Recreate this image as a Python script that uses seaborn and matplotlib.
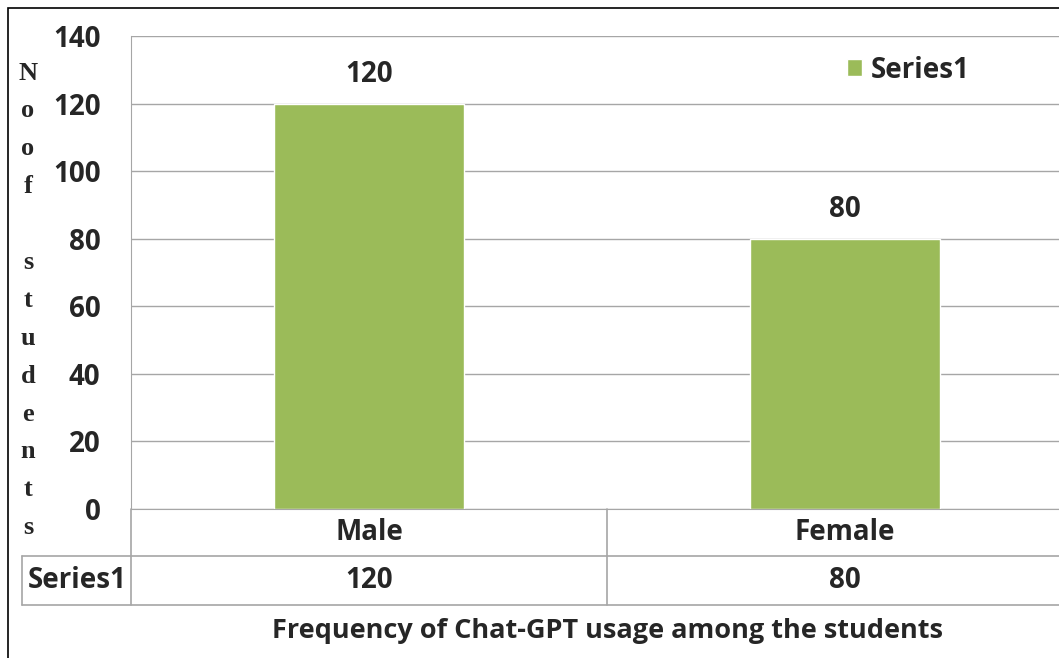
import numpy as np
import pandas as pd
import matplotlib
matplotlib.use("Agg")
import matplotlib.pyplot as plt
import seaborn as sns
from matplotlib.lines import Line2D
from matplotlib.patches import Rectangle

# datos del gráfico
categorias = ["Male", "Female"]
valores = [120, 80]
serie = "Series1"
titulo_x = "Frequency of Chat-GPT usage among the students"
etiqueta_y = "No of students"
ticks_y = [0, 20, 40, 60, 80, 100, 120, 140]

verde = "#9BBB59"
gris = "#A6A6A6"
fs = 20

sns.set_style("white")
plt.rcParams["font.family"] = ["Open Sans", "DejaVu Sans"]
plt.rcParams["font.weight"] = "bold"

df = pd.DataFrame({"Genero": categorias, "Frecuencia": valores})

W, H = 1059, 658
fig = plt.figure(figsize=(W / 100, H / 100), dpi=100)

# eje en píxeles de la imagen original (se corta a la derecha)
x0, x1, y_top, y_bot = 131, 1083, 36, 509
ax = fig.add_axes([x0 / W, 1 - y_bot / H, (x1 - x0) / W, (y_bot - y_top) / H])

sns.barplot(data=df, x="Genero", y="Frecuencia", color=verde, width=0.4,
            saturation=1, label=serie, ax=ax)

ax.set_ylim(0, 140)
ax.set_xlim(-0.5, 1.5)
ax.set_yticks(ticks_y)
ax.yaxis.grid(True, color=gris, linewidth=1)
ax.set_axisbelow(True)
ax.tick_params(axis="y", length=8, width=1, color=gris, labelsize=fs, pad=14)
ax.set_xticks([])
ax.set_xlabel("")
ax.set_ylabel("")
for lbl in ax.get_yticklabels():
    lbl.set_fontweight("bold")
for s in ["top", "right"]:
    ax.spines[s].set_visible(False)
ax.spines["left"].set_color(gris)
ax.spines["bottom"].set_color(gris)

# etiquetas de valor
for i, v in enumerate(valores):
    ax.text(i, v + 8.6, str(v), ha="center", va="center", fontsize=fs, fontweight="bold")

# tabla de datos bajo el eje
tr = ax.get_xaxis_transform()
h_eje = y_bot - y_top
def fy(py):
    return (y_bot - py) / h_eje

def linea(xs, ys):
    fig.add_artist(Line2D([x / W for x in xs], [1 - y / H for y in ys],
                          color=gris, linewidth=1.2))

fila1, fila2 = 556, 605
linea([22, W], [fila1, fila1])
linea([22, W], [fila2, fila2])
linea([22, 22], [fila1, fila2])
linea([x0, x0], [y_bot, fila2])
ax.plot([0.5, 0.5], [0, fy(fila2)], transform=tr, color=gris, linewidth=1.2, clip_on=False)

for i, (c, v) in enumerate(zip(categorias, valores)):
    ax.text(i, fy(533), c, transform=tr, ha="center", va="center", fontsize=fs, fontweight="bold")
    ax.text(i, fy(580), str(v), transform=tr, ha="center", va="center", fontsize=fs, fontweight="bold")
fig.text(77 / W, 1 - 580 / H, serie, ha="center", va="center", fontsize=fs, fontweight="bold")

fig.text(607 / W, 1 - 631 / H, titulo_x, ha="center", va="center", fontsize=19.5, fontweight="bold")

# etiqueta vertical letra a letra (como en el original: "Noof" + hueco + "students")
paso = 37.9
for k, ch in enumerate(etiqueta_y.replace("No of", "Noof")):
    fig.text(28 / W, 1 - (73 + k * paso) / H, ch, ha="center", va="center",
             fontsize=19, fontweight="bold", family="Liberation Serif")

# leyenda
leg = ax.legend(loc="center left", bbox_to_anchor=(822 / W, 1 - 70 / H),
                bbox_transform=fig.transFigure, frameon=False, fontsize=fs,
                handlelength=0.55, handleheight=0.55, handletextpad=0.3)
for t in leg.get_texts():
    t.set_fontweight("bold")

# marco exterior
fig.add_artist(Rectangle((8 / W, -0.1), 1.2, 1 - 8 / H + 0.1, transform=fig.transFigure,
                         fill=False, edgecolor="black", linewidth=1.2))

fig.savefig("out.png", dpi=100)
